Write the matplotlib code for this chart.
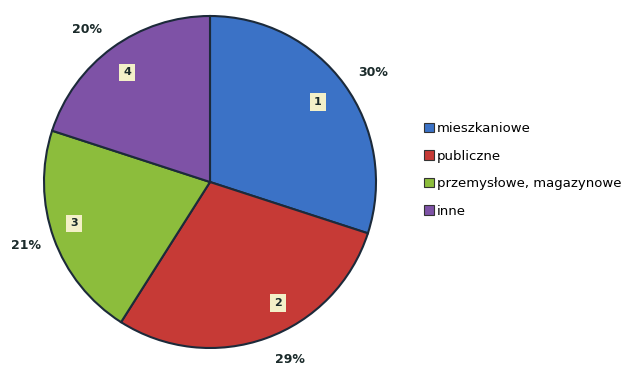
import matplotlib
matplotlib.use("Agg")
import matplotlib.pyplot as plt
from matplotlib.patches import Patch

categories = ["mieszkaniowe", "publiczne", "przemysłowe, magazynowe", "inne"]
values = [30, 29, 21, 20]
numbers = ["1", "2", "3", "4"]
colors = ["#3b72c6", "#c63a36", "#8cbd3c", "#7e52a6"]

# label layout (axes data units, pie radius = 1)
num_pos = [(0.65, 0.48), (0.41, -0.73), (-0.82, -0.25), (-0.50, 0.66)]
pct_pos = [(0.98, 0.66), (0.48, -1.07), (-1.11, -0.38), (-0.74, 0.92)]

W, H = 621, 365
fig = plt.figure(figsize=(W / 100, H / 100), dpi=100)
cx, cy, r = 210, 182, 166
ax = fig.add_axes([(cx - r) / W, (H - cy - r) / H, 2 * r / W, 2 * r / H])
wedges, _ = ax.pie(values, colors=colors, startangle=90, counterclock=False,
                   radius=1.0, wedgeprops=dict(edgecolor="#1c2a3a", linewidth=1.5))
ax.set_xlim(-1, 1)
ax.set_ylim(-1, 1)
ax.set_aspect("equal")
ax.set_axis_off()

for i, v in enumerate(values):
    ax.text(*num_pos[i], numbers[i], ha="center", va="center",
            fontsize=8, fontweight="bold", color="#1a2a2a",
            bbox=dict(boxstyle="square,pad=0.35", facecolor="#f3f0c8", edgecolor="none"))
    ax.text(*pct_pos[i], f"{v}%", ha="center", va="center",
            fontsize=9, fontweight="bold", color="#1a2a2a", clip_on=False)

handles = [Patch(facecolor=c, edgecolor="#333333", linewidth=0.8) for c in colors]
fig.legend(handles, categories, loc="upper left", bbox_to_anchor=(424 / W, 1 - 122 / H),
           frameon=False, fontsize=9.5, handlelength=0.75, handleheight=0.75,
           handletextpad=0.25, labelspacing=1.1, borderaxespad=0, borderpad=0)
fig.savefig("out.png", dpi=100)
